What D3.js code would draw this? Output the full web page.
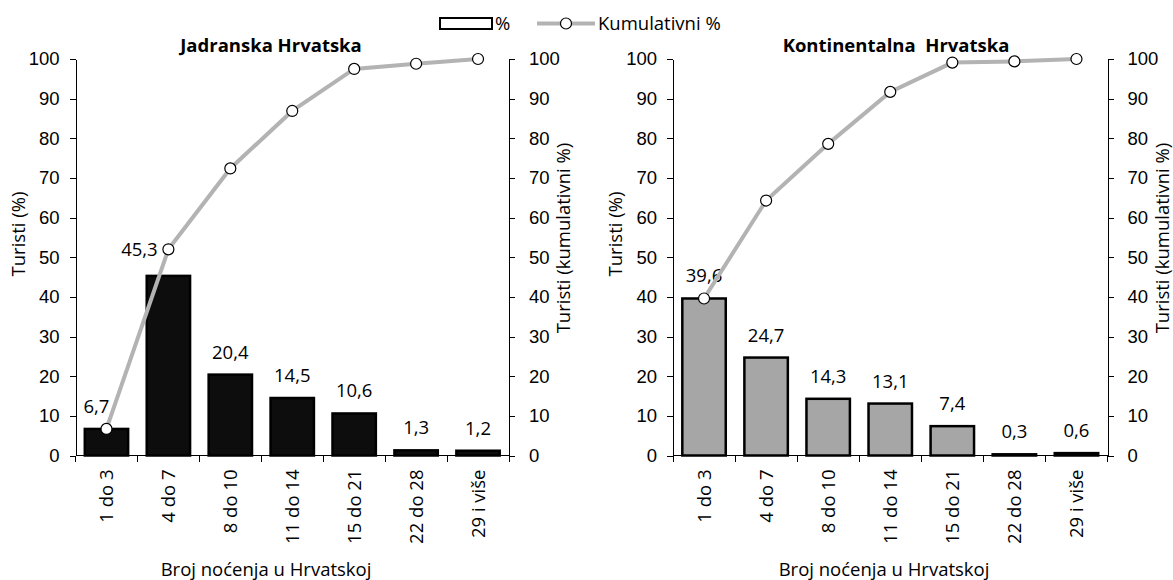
<!DOCTYPE html>
<meta charset="utf-8">
<style>

body {
  margin: 0;
  background: #fff;
  font-family: "Open Sans", sans-serif;
}

.axis path,
.axis line {
  fill: none;
  stroke: #000;
  shape-rendering: crispEdges;
}

.axis text {
  font-size: 18.5px;
  fill: #000;
}

.label {
  font-size: 18.5px;
  fill: #000;
}

.title {
  font-size: 18.5px;
  font-weight: bold;
  fill: #000;
}

</style>
<body>
<script src="https://cdn.jsdelivr.net/npm/d3@7"></script>
<script>

var categories = ["1 do 3", "4 do 7", "8 do 10", "11 do 14", "15 do 21", "22 do 28", "29 i više"];

var jadranPct = [6.7, 45.3, 20.4, 14.5, 10.6, 1.3, 1.2];
var jadranCum = [6.7, 52.0, 72.4, 86.9, 97.5, 98.8, 100.0];

var kontPct = [39.6, 24.7, 14.3, 13.1, 7.4, 0.3, 0.6];
var kontCum = [39.6, 64.3, 78.6, 91.7, 99.1, 99.4, 100.0];

var yTicks = [0, 10, 20, 30, 40, 50, 60, 70, 80, 90, 100];

var width = 1173,
    height = 580;

var svg = d3.select("body").append("svg")
    .attr("width", width)
    .attr("height", height);

// labels moved by hand off the line, as in the original
var panels = [
  {title: "Jadranska Hrvatska", pct: jadranPct, cum: jadranCum, fill: "#0d0d0d",
   left: 75.5, right: 509, titleX: 271, xTitleX: 266,
   nudge: {0: [-10, 0], 1: [-29, -4]}},
  {title: "Kontinentalna  Hrvatska", pct: kontPct, cum: kontCum, fill: "#a6a6a6",
   left: 673, right: 1107.5, titleX: 896, xTitleX: 884,
   nudge: {}}
];

var plotTop = 59, plotBottom = 455.5;

var y = d3.scaleLinear()
    .domain([0, 100])
    .range([plotBottom, plotTop]);

panels.forEach(function(p) {
  var g = svg.append("g");

  var x = d3.scaleBand()
      .domain(categories)
      .range([p.left, p.right])
      .paddingInner(0.3)
      .paddingOuter(0.15);

  var xTicks = d3.scaleLinear()
      .domain([0, categories.length])
      .range([p.left, p.right]);

  function cx(i) { return x(categories[i]) + x.bandwidth() / 2; }
  function nudge(i, k) { return p.nudge[i] ? p.nudge[i][k] : 0; }

  // bars
  g.selectAll(".bar")
      .data(p.pct)
    .enter().append("rect")
      .attr("class", "bar")
      .attr("x", function(d, i) { return x(categories[i]); })
      .attr("width", x.bandwidth())
      .attr("y", function(d) { return y(d); })
      .attr("height", function(d) { return plotBottom - y(d); })
      .style("fill", p.fill)
      .style("stroke", "#000")
      .style("stroke-width", 2.5);

  // left axis
  g.append("g")
      .attr("class", "axis")
      .attr("transform", "translate(" + p.left + ",0)")
      .call(d3.axisLeft(y).tickValues(yTicks).tickSize(6).tickPadding(10).tickSizeOuter(0));

  // right axis
  g.append("g")
      .attr("class", "axis")
      .attr("transform", "translate(" + p.right + ",0)")
      .call(d3.axisRight(y).tickValues(yTicks).tickSize(6).tickPadding(14).tickSizeOuter(0));

  // bottom axis, ticks between categories
  var xa = g.append("g")
      .attr("class", "axis")
      .attr("transform", "translate(0," + plotBottom + ")");
  xa.append("line")
      .attr("x1", p.left).attr("x2", p.right)
      .attr("y1", 0).attr("y2", 0);
  xa.selectAll(".tk")
      .data(d3.range(categories.length + 1))
    .enter().append("line")
      .attr("class", "tk")
      .attr("x1", function(d) { return xTicks(d); })
      .attr("x2", function(d) { return xTicks(d); })
      .attr("y1", 0).attr("y2", 6);
  xa.selectAll(".cat")
      .data(categories)
    .enter().append("text")
      .attr("class", "cat")
      .attr("transform", function(d) {
        return "translate(" + (x(d) + x.bandwidth() / 2) + ",14) rotate(-90)";
      })
      .attr("dy", ".35em")
      .style("text-anchor", "end")
      .text(function(d) { return d; });

  // value labels
  g.selectAll(".val")
      .data(p.pct)
    .enter().append("text")
      .attr("class", "label")
      .attr("x", function(d, i) { return cx(i) + nudge(i, 0); })
      .attr("y", function(d, i) { return y(d) - 16 + nudge(i, 1); })
      .style("text-anchor", "middle")
      .text(function(d) { return d3.format(".1f")(d).replace(".", ","); });

  // cumulative line
  var line = d3.line()
      .x(function(d, i) { return cx(i); })
      .y(function(d) { return y(d); });

  g.append("path")
      .datum(p.cum)
      .attr("d", line)
      .style("fill", "none")
      .style("stroke", "#b3b3b3")
      .style("stroke-width", 4);

  g.selectAll(".dot")
      .data(p.cum)
    .enter().append("circle")
      .attr("r", 5.5)
      .attr("cx", function(d, i) { return cx(i); })
      .attr("cy", function(d) { return y(d); })
      .style("fill", "#fff")
      .style("stroke", "#000")
      .style("stroke-width", 1.2);

  // titles
  g.append("text")
      .attr("class", "title")
      .attr("x", p.titleX)
      .attr("y", 52)
      .style("text-anchor", "middle")
      .style("white-space", "pre")
      .text(p.title);

  g.append("text")
      .attr("class", "label")
      .attr("x", p.xTitleX)
      .attr("y", 576)
      .style("text-anchor", "middle")
      .text("Broj noćenja u Hrvatskoj");

  g.append("text")
      .attr("class", "label")
      .attr("transform", "translate(" + (p.left - 57) + ",234) rotate(-90)")
      .attr("dy", ".35em")
      .style("text-anchor", "middle")
      .text("Turisti (%)");

  g.append("text")
      .attr("class", "label")
      .attr("transform", "translate(" + (p.right + 55) + ",238) rotate(-90)")
      .attr("dy", ".35em")
      .style("text-anchor", "middle")
      .text("Turisti (kumulativni %)");
});

// legend
var legend = svg.append("g");
legend.append("rect")
    .attr("x", 440).attr("y", 18)
    .attr("width", 52).attr("height", 11)
    .style("fill", "#fff")
    .style("stroke", "#000")
    .style("stroke-width", 2);
legend.append("text")
    .attr("class", "label")
    .attr("x", 495).attr("y", 30)
    .text("%");
legend.append("line")
    .attr("x1", 537).attr("x2", 595)
    .attr("y1", 23.5).attr("y2", 23.5)
    .style("stroke", "#b3b3b3")
    .style("stroke-width", 4);
legend.append("circle")
    .attr("cx", 566).attr("cy", 23.5).attr("r", 5.5)
    .style("fill", "#fff")
    .style("stroke", "#000")
    .style("stroke-width", 1.2);
legend.append("text")
    .attr("class", "label")
    .attr("x", 598).attr("y", 30)
    .text("Kumulativni %");

</script>
